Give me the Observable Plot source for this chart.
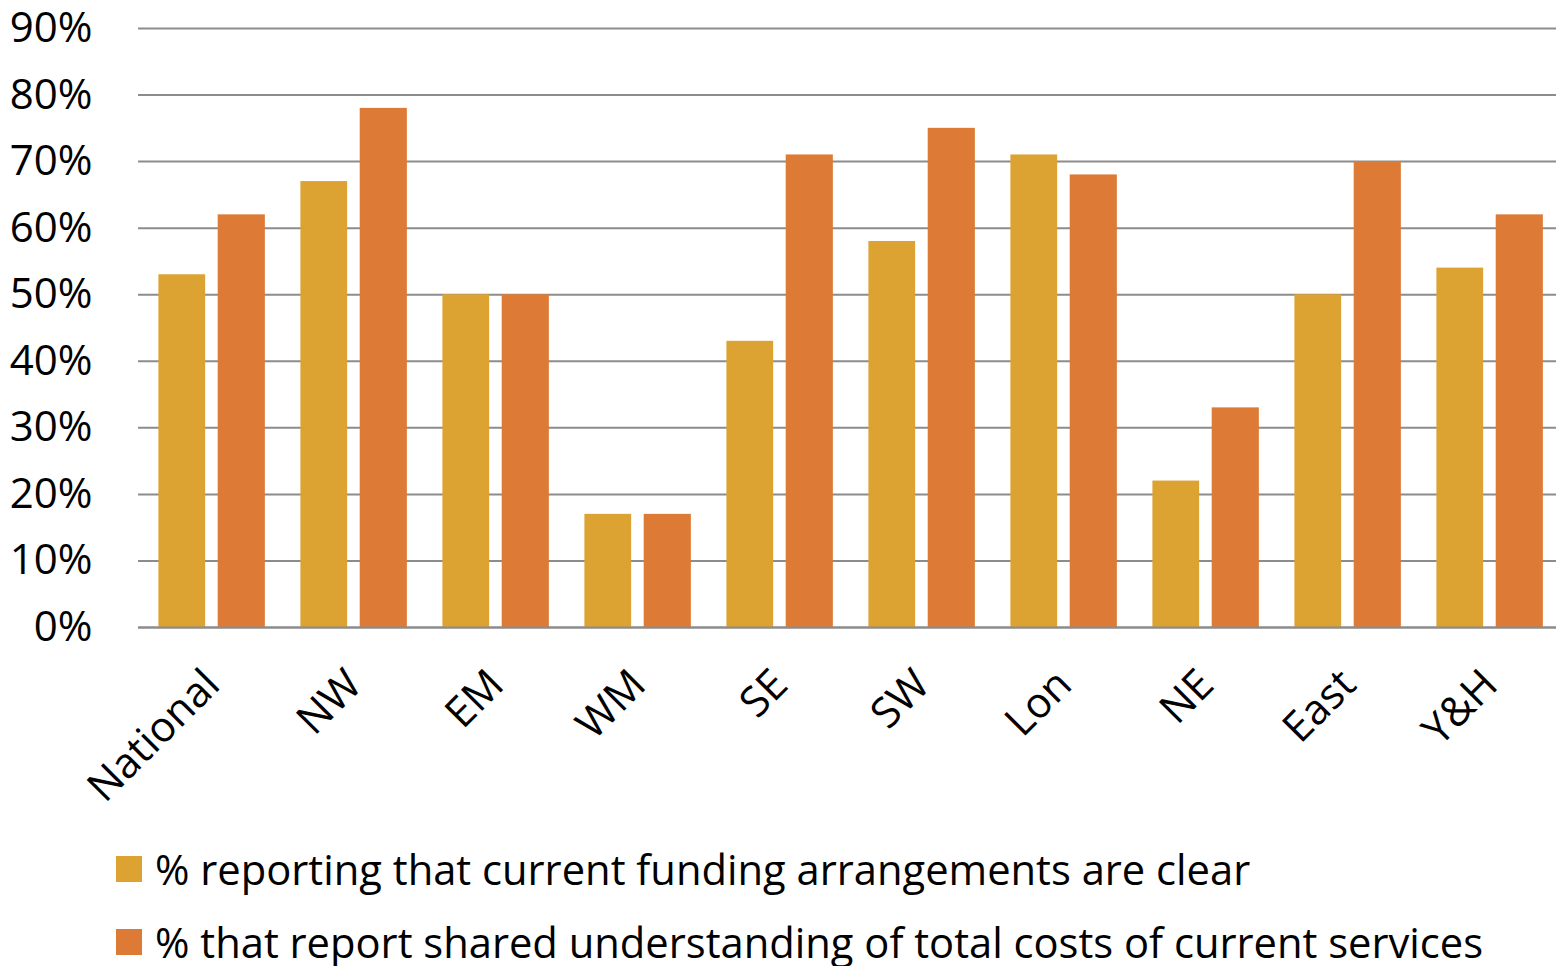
<!DOCTYPE html>
<html>
<head>
<meta charset="utf-8">
<script src="https://cdn.jsdelivr.net/npm/d3@7"></script>
<script src="https://cdn.jsdelivr.net/npm/@observablehq/plot@0.6"></script>
<style>
  html, body { margin: 0; padding: 0; background: #ffffff; }
  body { width: 1556px; height: 966px; overflow: hidden; font-family: "Open Sans", sans-serif; }
  #legend { margin-left: 116px; padding-top: 2px; }
  .item { display: flex; align-items: center; height: 73px; font-size: 41.7px; color: #000; white-space: nowrap; }
  .sw { width: 26px; height: 26px; margin-right: 13px; flex: none; }
</style>
</head>
<body>
<div id="chart"></div>
<div id="legend"></div>
<script>
const regions = ["National", "NW", "EM", "WM", "SE", "SW", "Lon", "NE", "East", "Y&H"];
const seriesNames = [
  "% reporting that current funding arrangements are clear",
  "% that report shared understanding of total costs of current services"
];
const clearPct = [53, 67, 50, 17, 43, 58, 71, 22, 50, 54];
const sharedPct = [62, 78, 50, 17, 71, 75, 68, 33, 70, 62];
const yTicks = [0, 10, 20, 30, 40, 50, 60, 70, 80, 90];
const colors = ["#DCA232", "#DD7B36"];

const rows = regions.map((r, i) => ({region: r, clear: clearPct[i], shared: sharedPct[i]}));

const chart = Plot.plot({
  width: 1556,
  height: 830,
  marginLeft: 138,
  marginRight: 0,
  marginTop: 28,
  marginBottom: 203,
  style: {fontFamily: "'Open Sans', sans-serif", fontSize: "42px", color: "#000", background: "#fff", overflow: "visible"},
  x: {domain: regions, padding: 0, range: [138.6, 1564.1], label: null, tickSize: 0, tickRotate: -45, tickPadding: 50},
  y: {domain: [0, 90], ticks: yTicks, tickFormat: d => d + "%", label: null, tickSize: 0, tickPadding: 46},
  marks: [
    Plot.ruleY(yTicks, {stroke: "#8c8c8c", strokeWidth: 2}),
    Plot.barY(rows, {x: "region", y: "clear", fill: colors[0], insetLeft: 17.4, insetRight: 77.85}),
    Plot.barY(rows, {x: "region", y: "shared", fill: colors[1], insetLeft: 76.7, insetRight: 18.15}),
    Plot.ruleY([0], {stroke: "#8c8c8c", strokeWidth: 2})
  ]
});
document.getElementById("chart").appendChild(chart);

const legend = document.getElementById("legend");
seriesNames.forEach((name, i) => {
  const item = document.createElement("div");
  item.className = "item";
  const sw = document.createElement("span");
  sw.className = "sw";
  sw.style.background = colors[i];
  const t = document.createElement("span");
  t.textContent = name;
  item.appendChild(sw);
  item.appendChild(t);
  legend.appendChild(item);
});
</script>
</body>
</html>
